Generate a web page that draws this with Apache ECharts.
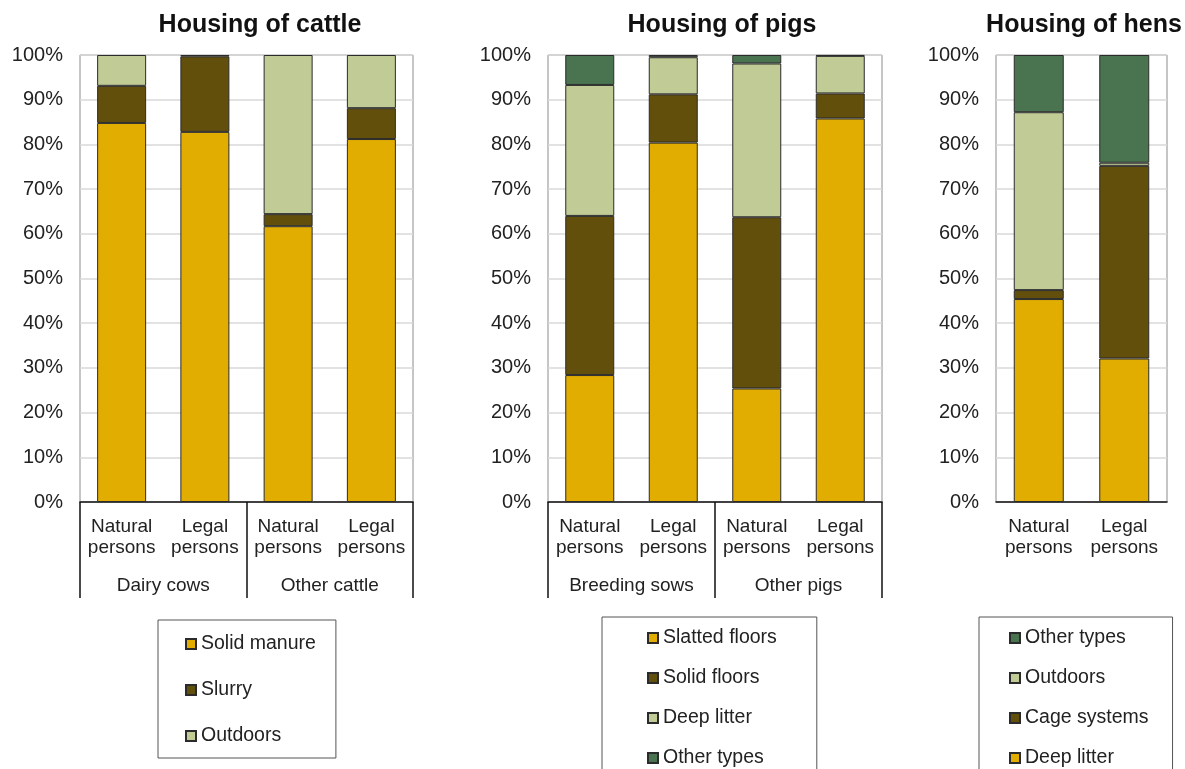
<!DOCTYPE html>
<html>
<head>
<meta charset="utf-8">
<title>Housing of livestock</title>
<script src="https://cdn.jsdelivr.net/npm/echarts@6/dist/echarts.min.js"></script>
<style>
  html, body { margin: 0; padding: 0; background: #fff; }
  #main { width: 1185px; height: 769px; }
</style>
</head>
<body>
<div id="main"></div>
<script>
// categories
var personTypes = ['Natural\npersons', 'Legal\npersons', 'Natural\npersons', 'Legal\npersons']
var cattleGroups = ['Dairy cows', 'Other cattle']
var pigGroups = ['Breeding sows', 'Other pigs']
var henTypes = ['Natural\npersons', 'Legal\npersons']

// cattle (%)
var cattleSolidManure = [84.8, 82.8, 61.7, 81.2]
var cattleSlurry = [8.3, 16.9, 2.7, 6.9]
var cattleOutdoors = [6.9, 0.3, 35.6, 11.9]

// pigs (%)
var pigSlatted = [28.4, 80.4, 25.4, 85.8]
var pigSolid = [35.6, 10.8, 38.3, 5.6]
var pigDeepLitter = [29.3, 8.3, 34.4, 8.4]
var pigOther = [6.7, 0.5, 1.9, 0.2]

// hens (%)
var henDeepLitter = [45.4, 32.1]
var henCage = [2.0, 43.1]
var henOutdoors = [39.8, 0.7]
var henOther = [12.8, 24.1]

var yTicks = { min: 0, max: 100, interval: 10 }

var GOLD = '#e1ad01'
var BROWN = '#634f0c'
var LIGHT = '#c0cb96'
var GREEN = '#4a7350'
var FONT = "'Liberation Sans', Arial, sans-serif"
var TXT = '#222'

var grids = [
	{ left: 80, top: 55, width: 333, height: 447 },
	{ left: 548, top: 55, width: 334, height: 447 },
	{ left: 996, top: 55, width: 171, height: 447 }
]

function makeGrid(g) {
	return {
		left: g.left, top: g.top, width: g.width, height: g.height,
		show: true, borderColor: '#8c8c8c', borderWidth: 1, backgroundColor: 'transparent'
	}
}

function personAxis(idx, data) {
	return {
		type: 'category', gridIndex: idx, data: data, position: 'bottom',
		axisLine: { show: true, lineStyle: { color: '#111', width: 1.5 } },
		axisTick: { show: false },
		axisLabel: { interval: 0, margin: 14, fontSize: 19, lineHeight: 21, color: TXT, fontFamily: FONT }
	}
}

function groupAxis(idx, data) {
	return {
		type: 'category', gridIndex: idx, data: data, position: 'bottom',
		axisLine: { show: false },
		axisTick: { show: true, length: 96, lineStyle: { color: '#111', width: 1.5 } },
		axisLabel: { interval: 0, margin: 73, fontSize: 19, lineHeight: 21, color: TXT, fontFamily: FONT }
	}
}

function valueAxis(idx) {
	return {
		type: 'value', gridIndex: idx, min: yTicks.min, max: yTicks.max, interval: yTicks.interval,
		axisLine: { show: false },
		axisTick: { show: false },
		splitLine: { lineStyle: { color: '#d9d9d9', width: 1.5 } },
		axisLabel: { formatter: '{value}%', margin: 17, fontSize: 20, color: TXT, fontFamily: FONT }
	}
}

function bar(name, data, color, axisIdx, stack, width) {
	return {
		name: name, type: 'bar', stack: stack, data: data,
		xAxisIndex: axisIdx, yAxisIndex: axisIdx === 0 ? 0 : (axisIdx === 2 ? 1 : 2),
		barWidth: width,
		itemStyle: { color: color, borderColor: '#2b2b2b', borderWidth: 1 },
		emphasis: { disabled: true }
	}
}

function legend(opt) {
	return {
		orient: 'vertical', left: opt.left, top: opt.top, height: 300, padding: opt.padding,
		itemGap: opt.gap, itemWidth: 10, itemHeight: 10, icon: 'rect',
		borderColor: '#555', borderWidth: 1, backgroundColor: '#fff',
		data: opt.data,
		textStyle: { fontSize: 19.5, lineHeight: 20, color: TXT, fontFamily: FONT },
		formatter: function (n) { return n.split('|')[1] }
	}
}

function title(text, center) {
	return {
		text: text, left: center, top: 8, textAlign: 'center',
		textStyle: { fontSize: 25, fontWeight: 'bold', color: '#111', fontFamily: FONT }
	}
}

var option = {
	backgroundColor: '#fff',
	animation: false,
	title: [
		title('Housing of cattle', 255),
		title('Housing of pigs', 717),
		title('Housing of hens', 1079)
	],
	grid: grids.map(makeGrid),
	xAxis: [
		personAxis(0, personTypes),
		groupAxis(0, cattleGroups),
		personAxis(1, personTypes),
		groupAxis(1, pigGroups),
		personAxis(2, henTypes)
	],
	yAxis: [valueAxis(0), valueAxis(1), valueAxis(2)],
	legend: [
		legend({ left: 158, top: 620, padding: [14, 20, 12, 27], gap: 26,
			data: ['cattle|Solid manure', 'cattle|Slurry', 'cattle|Outdoors'] }),
		legend({ left: 602, top: 617, padding: [11, 40, 30, 45], gap: 20,
			data: ['pigs|Slatted floors', 'pigs|Solid floors', 'pigs|Deep litter', 'pigs|Other types'] }),
		legend({ left: 979, top: 617, padding: [11, 24, 30, 30], gap: 20,
			data: ['hens|Other types', 'hens|Outdoors', 'hens|Cage systems', 'hens|Deep litter'] })
	],
	series: [
		bar('cattle|Solid manure', cattleSolidManure, GOLD, 0, 'cattle', 49),
		bar('cattle|Slurry', cattleSlurry, BROWN, 0, 'cattle', 49),
		bar('cattle|Outdoors', cattleOutdoors, LIGHT, 0, 'cattle', 49),

		bar('pigs|Slatted floors', pigSlatted, GOLD, 2, 'pigs', 49),
		bar('pigs|Solid floors', pigSolid, BROWN, 2, 'pigs', 49),
		bar('pigs|Deep litter', pigDeepLitter, LIGHT, 2, 'pigs', 49),
		bar('pigs|Other types', pigOther, GREEN, 2, 'pigs', 49),

		bar('hens|Deep litter', henDeepLitter, GOLD, 4, 'hens', 50),
		bar('hens|Cage systems', henCage, BROWN, 4, 'hens', 50),
		bar('hens|Outdoors', henOutdoors, LIGHT, 4, 'hens', 50),
		bar('hens|Other types', henOther, GREEN, 4, 'hens', 50)
	]
}

var chart = echarts.init(document.getElementById('main'), null, { renderer: 'canvas' })
chart.setOption(option)
window.addEventListener('resize', function () { chart.resize() })
</script>
</body>
</html>
